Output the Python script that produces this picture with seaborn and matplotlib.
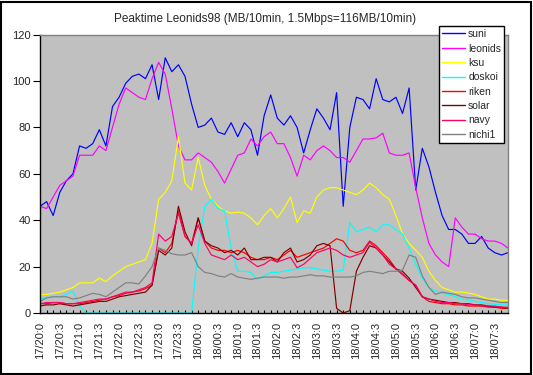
import numpy as np
import pandas as pd
import matplotlib
matplotlib.use("Agg")
import matplotlib.pyplot as plt
from matplotlib.lines import Line2D
from matplotlib.patches import Rectangle
import seaborn as sns

title = "Peaktime Leonids98 (MB/10min, 1.5Mbps=116MB/10min)"

tick_labels = ["17/20:0", "17/20:3", "17/21:0", "17/21:3", "17/22:0", "17/22:3",
               "17/23:0", "17/23:3", "18/00:0", "18/00:3", "18/01:0", "18/01:3",
               "18/02:0", "18/02:3", "18/03:0", "18/03:3", "18/04:0", "18/04:3",
               "18/05:0", "18/05:3", "18/06:0", "18/06:3", "18/07:0", "18/07:3"]

series_names = ["suni", "leonids", "ksu", "doskoi", "riken", "solar", "navy", "nichi1"]
series_colors = ["#0000FF", "#FF00FF", "#FFFF00", "#00FFFF", "#FF0000", "#800000", "#FF0066", "#808080"]

suni = [46, 48, 42, 52, 57, 60, 72, 71, 73, 79,
        72, 89, 93, 99, 102, 103, 101, 107, 92, 110,
        104, 107, 102, 90, 80, 81, 84, 78, 77, 82,
        76, 82, 79, 68, 85, 94, 84, 81, 85, 80,
        69, 79, 88, 84, 79, 95, 46, 80, 93, 92,
        88, 101, 92, 91, 93, 86, 97, 53, 71, 63,
        52, 42, 36, 36, 34, 30, 30, 33, 28, 26,
        25, 26]
leonids = [46, 45, 50, 55, 57, 59, 68, 68, 68, 72,
           70, 80, 90, 97, 95, 93, 92, 101, 108, 103,
           88, 72, 66, 66, 69, 67, 65, 61, 56, 62,
           68, 69, 75, 72, 76, 78, 73, 73, 67, 59,
           68, 66, 70, 72, 70, 67, 67, 65, 70, 75,
           75, 75.5, 77.5, 69, 68, 68, 69, 54, 41, 30,
           25, 22, 20, 41, 37, 34, 34, 32, 31, 31,
           30, 28]
ksu = [8, 8, 8.5, 9, 10, 11, 13, 13, 13, 15,
       13.5, 16, 18, 20, 21, 22, 23, 30, 49, 52,
       57, 76, 56, 53, 67, 55, 49, 46, 44, 43,
       43.5, 43, 41, 38, 42, 45, 41, 45, 50, 39,
       44, 43, 50, 53, 54, 54, 53, 52, 51, 53,
       56, 54, 51, 49, 42, 34, 30, 27, 24, 18,
       14, 11, 10, 9, 9, 8.6, 8, 7, 6, 6,
       5.5, 5.5]
doskoi = [6, 6.5, 7, 7, 8, 9.5, 3, 0, 0, 0,
          0, 0, 0, 0, 0, 0, 0, 0, 0, 0,
          0, 0, 0, 0, 28, 46, 49, 45, 44, 28,
          18, 18, 17.5, 14.5, 16, 17.5, 17.5, 18, 18.5, 19,
          19.5, 19.5, 19, 18.5, 18, 18, 18.5, 39, 35, 36,
          37, 35, 38, 38, 36, 34, 28, 21, 15, 11,
          9.5, 8.5, 8, 7, 6, 5.6, 5, 4.5, 4, 3.7,
          3.5, 3.5]
riken = [4, 4, 4.5, 4.5, 4, 4, 4, 4.5, 5, 5.5,
         6, 7, 7.5, 8.5, 9, 9.5, 10.5, 12, 28, 26,
         30, 44, 33, 30, 41, 31, 28, 27, 27, 26,
         27, 26, 24, 23, 23, 24, 23, 25, 27, 24,
         25, 26, 27, 28, 30, 32, 31, 27, 26, 27,
         31, 29, 26, 23, 19, 16.5, 14, 12, 7, 5,
         4.5, 4, 4, 3.5, 3.5, 3, 3, 3, 2.5, 2.5,
         2, 2]
solar = [3, 3.5, 3.5, 4, 3.5, 3, 3.5, 4, 4.5, 5,
         5, 6, 7, 7.5, 8, 8.5, 9, 12, 27, 25,
         28, 46, 35, 29, 41, 31, 29, 28, 26, 27,
         25, 28, 23, 23, 24, 24, 22, 26, 28, 22,
         23, 25, 29, 30, 29, 2, 0, 1, 18, 24,
         29, 28, 25, 22, 19, 18, 15, 11, 7, 6,
         5.5, 5, 4.5, 4.5, 4, 4, 3.5, 3.5, 3, 2.5,
         2.5, 2]
navy = [4, 4.5, 4.5, 4.5, 4, 4, 4.5, 5, 5.5, 6,
        6, 7, 8, 9, 9, 10, 11, 13, 34, 31,
        33, 43, 33, 30, 38, 30, 25, 24, 23, 25,
        23, 24, 22, 20, 21, 23, 22, 23, 24, 19.5,
        21, 23.5, 26, 27, 28, 27, 25, 24, 25, 26,
        30.5, 28, 25, 21, 19, 17, 14, 12, 7, 6,
        5, 4.5, 4.5, 4, 4, 3.5, 3.5, 3, 3, 3,
        2.5, 2.5]
nichi1 = [5, 6.5, 7, 7, 7, 6, 6.5, 7.5, 8.5, 8,
          7, 9, 11, 13, 13, 12.5, 16, 20, 28, 27,
          25.5, 25, 25, 26, 20, 17.5, 17, 16, 15.5, 17,
          15.5, 15, 14.5, 15, 15.5, 15.5, 15.5, 15, 15.5, 15.5,
          16, 16.5, 16, 16, 15.5, 15.5, 15.5, 15.5, 16, 17.5,
          18, 17.5, 17, 18, 18, 18.5, 25, 24, 16, 11,
          8, 9, 8.5, 8, 7, 6.5, 6.5, 6, 5.5, 5,
          4.5, 4.5]

all_series = [suni, leonids, ksu, doskoi, riken, solar, navy, nichi1]
n = len(suni)
frames = []
for name, vals in zip(series_names, all_series):
    frames.append(pd.DataFrame({"slot": np.arange(len(vals)), "value": vals, "series": name}))
df = pd.concat(frames, ignore_index=True)

sns.set_style("white")
plt.rcParams["font.family"] = ["Liberation Sans", "DejaVu Sans"]

W, H = 533, 375
fig = plt.figure(figsize=(W / 100, H / 100), dpi=100)
fig.patch.set_facecolor("white")
ax = fig.add_axes([40 / W, (H - 313) / H, 468 / W, 278.4 / H])
ax.set_facecolor("#C0C0C0")

sns.lineplot(data=df, x="slot", y="value", hue="series", hue_order=series_names,
             palette=dict(zip(series_names, series_colors)), ax=ax, linewidth=0.85,
             legend=False, sort=False, estimator=None)

ax.set_xlim(0, n - 1)
ax.set_ylim(0, 120)
ax.set_xlabel("")
ax.set_ylabel("")
ax.set_yticks(range(0, 121, 20))
ax.set_yticklabels([str(v) for v in range(0, 121, 20)], fontsize=8)
ax.set_xticks(np.arange(0, 3 * len(tick_labels), 3))
ax.set_xticklabels(tick_labels, rotation=90, fontsize=8)
ax.set_xticks(np.arange(n), minor=True)
ax.tick_params(axis="x", which="both", direction="in", length=2.5, width=0.8,
               color="black", pad=6.5, bottom=True)
ax.tick_params(axis="y", direction="out", length=5, width=0.8, color="black", pad=1.5, left=True)
for s in ["left", "bottom"]:
    ax.spines[s].set_color("black")
    ax.spines[s].set_linewidth(1.0)
for s in ["top", "right"]:
    ax.spines[s].set_color("#808080")
    ax.spines[s].set_linewidth(1.0)

fig.text(265 / W, 1 - 19 / H, title, ha="center", va="center", fontsize=8.5)

handles = [Line2D([], [], color=c, lw=1.0) for c in series_colors]
leg = fig.legend(handles, series_names, loc="upper left",
                 bbox_to_anchor=(439 / W, 1 - 26 / H), bbox_transform=fig.transFigure,
                 frameon=True, fancybox=False, edgecolor="black", framealpha=1,
                 fontsize=7.5, handlelength=2.2, handletextpad=0.3, labelspacing=0.42,
                 borderpad=0.3, borderaxespad=0)
leg.get_frame().set_linewidth(1.0)

fig.patches.append(Rectangle((1 / W, 1 / H), (W - 3) / W, (H - 2.5) / H, transform=fig.transFigure,
                             fill=False, edgecolor="black", linewidth=1.5))

fig.savefig("out.png", dpi=100)
